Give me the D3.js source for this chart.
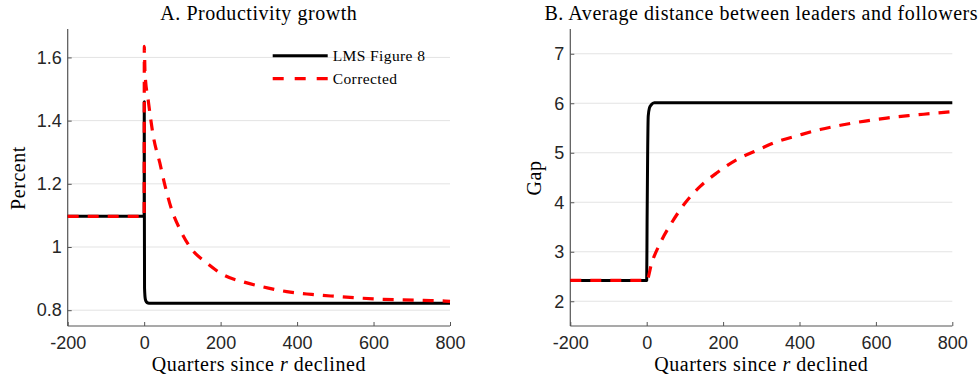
<!DOCTYPE html>
<html><head><meta charset="utf-8">
<script src="https://cdn.jsdelivr.net/npm/d3@7/dist/d3.min.js"></script>
<style>
html,body{margin:0;padding:0;background:#fff;}
svg{display:block;}
</style></head>
<body>
<svg id="chart" width="979" height="381"></svg>
<script>
// ---- Data ----
const xTicks = [-200, 0, 200, 400, 600, 800];
const yTicksA = [0.8, 1, 1.2, 1.4, 1.6];
const yTicksB = [2, 3, 4, 5, 6, 7];
const seriesNames = ["LMS Figure 8", "Corrected"];

// Panel A: productivity growth (percent)
const prodLMS_t = [-200, 0, 0.3, 0.6, 1, 3, 6, 10, 16, 800];
const prodLMS_v = [1.097, 1.097, 1.46, 1.10, 0.87, 0.835, 0.826, 0.823, 0.822, 0.822];
const prodCor_t = [-200, 0, 0.4, 2.2, 11, 24, 41, 55, 72, 94, 120, 164, 207, 264, 325, 382, 438, 499, 556, 613, 674, 730, 787, 800];
const prodCor_v = [1.097, 1.097, 1.635, 1.551, 1.461, 1.35, 1.266, 1.192, 1.118, 1.055, 1.0, 0.949, 0.912, 0.888, 0.870, 0.857, 0.850, 0.844, 0.839, 0.835, 0.833, 0.831, 0.829, 0.828];

// Panel B: average gap between leaders and followers
const gapLMS_t = [-200, 0, 1, 2.5, 4, 7, 12, 20, 800];
const gapLMS_v = [2.42, 2.42, 3.6, 5.0, 5.74, 5.9, 5.97, 6.01, 6.01];
const gapCor_t = [-200, 0, 13, 35, 65, 100, 140, 183, 236, 292, 340, 397, 454, 511, 572, 628, 685, 742, 800];
const gapCor_v = [2.42, 2.42, 2.77, 3.17, 3.58, 3.98, 4.32, 4.59, 4.86, 5.06, 5.22, 5.35, 5.47, 5.56, 5.64, 5.70, 5.75, 5.79, 5.83];

const svg = d3.select("#chart");
const serif = "'Liberation Serif','Times New Roman',serif";
const sans = "'Liberation Sans',Arial,Helvetica,sans-serif";

function zip(t, v){ return t.map((d,i)=>[d, v[i]]); }

function panel(opts){
  const {x0, x1, y0, y1, ydom, yticks, yfmt, title, ylabel, ylabelX, lms, cor, legend} = opts;
  const x = d3.scaleLinear().domain([-200, 800]).range([x0, x1]);
  const y = d3.scaleLinear().domain(ydom).range([y1, y0]);
  const g = svg.append("g");

  // grid
  g.append("g").selectAll("line").data(yticks).join("line")
    .attr("x1", x0).attr("x2", x1)
    .attr("y1", d=>y(d)).attr("y2", d=>y(d))
    .attr("stroke", "#e3e3e3").attr("stroke-width", 1);

  // axes
  const ax = g.append("g").attr("transform", `translate(0,${y1})`)
    .call(d3.axisBottom(x).tickValues(xTicks).tickSizeInner(-4).tickSizeOuter(0).tickPadding(10).tickFormat(d=>String(d)));
  const ay = g.append("g").attr("transform", `translate(${x0},0)`)
    .call(d3.axisLeft(y).tickValues(yticks).tickSizeInner(-4).tickSizeOuter(0).tickPadding(6).tickFormat(yfmt));
  [ax, ay].forEach(a=>{
    a.select(".domain").attr("stroke", "#555").attr("stroke-width", 1.2);
    a.selectAll(".tick line").attr("stroke", "#555").attr("stroke-width", 1);
    a.selectAll(".tick text").attr("fill", "#262626").style("font-family", sans).style("font-size", "18px");
  });
  ax.select(".domain").attr("d", `M${x0},0H${x1}`);
  ay.select(".domain").attr("d", `M0,${y1}V${y0}`);

  const line = d3.line().x(d=>x(d[0])).y(d=>y(d[1])).curve(d3.curveMonotoneX);
  g.append("path").datum(lms).attr("d", line)
    .attr("fill", "none").attr("stroke", "#000").attr("stroke-width", 3).attr("stroke-linejoin", "round");
  g.append("path").datum(cor).attr("d", line)
    .attr("fill", "none").attr("stroke", "#ff0000").attr("stroke-width", 3.2)
    .attr("stroke-dasharray", "11,9");

  // title
  g.append("text").attr("x", (x0+x1)/2).attr("y", 19.5).attr("text-anchor", "middle")
    .style("font-family", serif).style("font-size", "20px").style("letter-spacing", "0.55px").attr("fill", "#000")
    .text(title);
  // x label
  const xl = g.append("text").attr("x", (x0+x1)/2).attr("y", 371).attr("text-anchor", "middle")
    .style("font-family", serif).style("font-size", "20px").style("letter-spacing", "0.55px").attr("fill", "#000");
  xl.append("tspan").text("Quarters since ");
  xl.append("tspan").style("font-style", "italic").text("r");
  xl.append("tspan").text(" declined");
  // y label
  g.append("text").attr("transform", `translate(${ylabelX},${(y0+y1)/2 + 0.5}) rotate(-90)`)
    .attr("text-anchor", "middle")
    .style("font-family", serif).style("font-size", "20px").style("letter-spacing", "0.55px").attr("fill", "#000")
    .text(ylabel);

  if (legend){
    const lg = g.append("g");
    const rows = [{name: seriesNames[0], dash: null, color: "#000", w: 3},
                  {name: seriesNames[1], dash: "11,11", color: "#ff0000", w: 3.2}];
    rows.forEach((r,i)=>{
      const yy = 55.7 + i*23;
      lg.append("line").attr("x1", 272.7).attr("x2", 327.7).attr("y1", yy).attr("y2", yy)
        .attr("stroke", r.color).attr("stroke-width", r.w).attr("stroke-dasharray", r.dash);
      lg.append("text").attr("x", 332.7).attr("y", yy + 5)
        .style("font-family", serif).style("font-size", "15.5px").style("letter-spacing", "0.4px").attr("fill", "#000")
        .text(r.name);
    });
  }
}

panel({x0: 67.7, x1: 450, y0: 29, y1: 326, ydom: [0.75, 1.69], yticks: yTicksA,
  yfmt: d=> d===1 ? "1" : d3.format(".1f")(d),
  title: "A. Productivity growth", ylabel: "Percent", ylabelX: 25,
  lms: zip(prodLMS_t, prodLMS_v), cor: zip(prodCor_t, prodCor_v), legend: true});

panel({x0: 570.3, x1: 952.3, y0: 29, y1: 326, ydom: [1.5, 7.5], yticks: yTicksB,
  yfmt: d3.format("d"),
  title: "B. Average distance between leaders and followers", ylabel: "Gap", ylabelX: 541,
  lms: zip(gapLMS_t, gapLMS_v), cor: zip(gapCor_t, gapCor_v), legend: false});
</script>
</body></html>
